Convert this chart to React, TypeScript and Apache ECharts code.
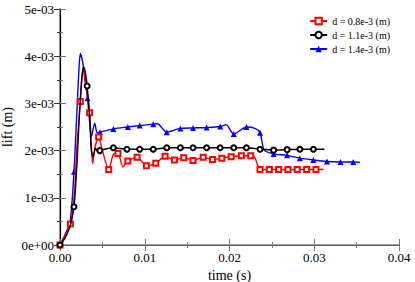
import React, { useEffect, useRef } from "react";
import * as echarts from "echarts";

// time (s)
const redT = [0, 0.0006, 0.00122, 0.0017, 0.002, 0.0024, 0.0026, 0.00279, 0.003, 0.0035, 0.0037, 0.00386, 0.0041, 0.00456, 0.005, 0.00575, 0.0063, 0.00684, 0.00743, 0.008, 0.0091, 0.0102, 0.0113, 0.0124, 0.0135, 0.0146, 0.0157, 0.0169, 0.018, 0.0191, 0.0202, 0.0214, 0.0225, 0.023, 0.0236, 0.0247, 0.0258, 0.0269, 0.028, 0.0291, 0.0302, 0.0311];
// lift in 1e-3 m
const redLift = [0, 0.2, 0.445, 1.1, 2.1, 3.04, 3.55, 3.71, 3.5, 2.8, 2.1, 1.72, 2.05, 2.29, 2.0, 1.6, 1.92, 1.94, 1.65, 1.78, 1.86, 1.68, 1.73, 1.88, 1.8, 1.85, 1.79, 1.86, 1.81, 1.84, 1.87, 1.89, 1.89, 1.85, 1.6, 1.6, 1.6, 1.6, 1.6, 1.6, 1.6, 1.6];
const redMark = [1, 0, 1, 0, 0, 1, 0, 0, 0, 1, 0, 0, 0, 1, 0, 1, 0, 1, 0, 1, 1, 1, 1, 1, 1, 1, 1, 1, 1, 1, 1, 1, 1, 0, 1, 1, 1, 1, 1, 1, 1, 0];

const blackT = [0, 0.0006, 0.0012, 0.00165, 0.002, 0.0023, 0.0026, 0.0028, 0.003, 0.0032, 0.0035, 0.0037, 0.0039, 0.0042, 0.0045, 0.0047, 0.0063, 0.0079, 0.0094, 0.011, 0.0126, 0.0142, 0.0157, 0.0173, 0.0189, 0.0205, 0.022, 0.0236, 0.0252, 0.0268, 0.0283, 0.0299, 0.0312];
const blackLift = [0, 0.15, 0.4, 0.81, 1.7, 2.8, 3.6, 3.78, 3.65, 3.37, 2.7, 2.0, 1.87, 2.05, 1.96, 2.0, 2.06, 2.03, 2.03, 2.03, 2.06, 2.06, 2.06, 2.06, 2.06, 2.06, 2.06, 2.03, 2.01, 2.02, 2.03, 2.03, 2.03];
const blackMark = [1, 0, 0, 1, 0, 0, 0, 0, 0, 1, 0, 0, 0, 0, 0, 1, 1, 1, 1, 1, 1, 1, 1, 1, 1, 1, 1, 1, 1, 1, 1, 1, 0];

const blueT = [0, 0.0006, 0.0012, 0.00165, 0.002, 0.0022, 0.0024, 0.0027, 0.003, 0.00325, 0.0035, 0.0037, 0.0041, 0.0044, 0.00472, 0.0063, 0.008, 0.0094, 0.011, 0.0115, 0.0126, 0.0142, 0.0157, 0.0173, 0.0189, 0.0196, 0.0205, 0.022, 0.023, 0.0236, 0.0241, 0.0252, 0.0268, 0.0283, 0.0299, 0.0315, 0.0331, 0.0346, 0.0354];
const blueLift = [0, 0.22, 0.5, 1.55, 2.85, 3.6, 4.06, 3.85, 3.4, 3.11, 2.6, 2.29, 2.58, 2.37, 2.39, 2.46, 2.5, 2.53, 2.56, 2.57, 2.39, 2.47, 2.48, 2.49, 2.51, 2.55, 2.35, 2.5, 2.47, 2.38, 2.01, 1.93, 1.9, 1.84, 1.8, 1.77, 1.76, 1.76, 1.75];
const blueMark = [1, 0, 0, 1, 0, 0, 0, 0, 0, 1, 0, 0, 0, 0, 1, 1, 1, 1, 1, 0, 1, 1, 1, 1, 1, 0, 1, 1, 0, 1, 0, 1, 1, 1, 1, 1, 1, 1, 0];

const seriesNames = ["d = 0.8e-3 (m)", "d = 1.1e-3 (m)", "d = 1.4e-3 (m)"];

const FONT = "Liberation Serif";

function build(t: number[], v: number[], m: number[]) {
  return t.map((x, i) =>
    m[i] ? { value: [x, v[i]] } : { value: [x, v[i]], symbol: "none" }
  );
}

function axisBase(extra: any) {
  return {
    type: "value",
    splitLine: { show: false },
    ...extra,
  };
}

export default function App() {
  const ref = useRef<HTMLDivElement>(null);
  useEffect(() => {
    if (!ref.current) return;
    const chart = echarts.init(ref.current, undefined, { renderer: "svg" });
    const tickGrey = "#7a7a7a";
    const labelStyle = { fontFamily: FONT, fontSize: 13, fontWeight: "normal", color: "#000" };
    const nameStyle = { fontFamily: FONT, fontSize: 14, fontWeight: "normal", color: "#000" };
    const option: any = {
      animation: false,
      backgroundColor: "#ffffff",
      textStyle: { fontFamily: FONT, fontWeight: "normal" },
      grid: { left: 60, right: 16, top: 9, bottom: 37, outerBoundsMode: "none" },
      legend: {
        right: 20,
        top: 11,
        orient: "vertical",
        itemWidth: 17,
        itemHeight: 8,
        itemGap: 4,
        textStyle: { fontFamily: FONT, fontSize: 10, fontWeight: "normal", color: "#000" },
        data: seriesNames,
      },
      xAxis: [
        axisBase({
          position: "bottom",
          min: 0,
          max: 0.04,
          interval: 0.01,
          name: "time (s)",
          nameLocation: "middle",
          nameGap: 23,
          nameMoveOverlap: false,
          nameTextStyle: nameStyle,
          axisLine: { show: true, lineStyle: { color: "#000", width: 1.2 } },
          axisTick: { show: true, inside: true, length: 6, lineStyle: { color: tickGrey } },
          minorTick: { show: true, splitNumber: 2, length: 3, lineStyle: { color: tickGrey } },
          axisLabel: { ...labelStyle, margin: 6, formatter: (v: number) => v.toFixed(2) },
        }),
        axisBase({
          position: "top",
          min: 0,
          max: 0.04,
          interval: 0.01,
          axisLine: { show: true, lineStyle: { color: "#808080", width: 1.5 } },
          axisTick: { show: true, inside: true, length: 6, lineStyle: { color: tickGrey } },
          minorTick: { show: true, splitNumber: 2, length: 3, lineStyle: { color: tickGrey } },
          axisLabel: { show: false },
        }),
      ],
      yAxis: [
        axisBase({
          position: "left",
          min: 0,
          max: 5,
          interval: 1,
          name: "lift (m)",
          nameLocation: "middle",
          nameGap: 46,
          nameMoveOverlap: false,
          nameTextStyle: nameStyle,
          axisLine: { show: true, lineStyle: { color: "#808080", width: 1.5 } },
          axisTick: { show: true, inside: true, length: 6, lineStyle: { color: tickGrey } },
          minorTick: { show: true, splitNumber: 2, length: 3, lineStyle: { color: tickGrey } },
          axisLabel: {
            ...labelStyle,
            margin: 6,
            formatter: (v: number) => (v === 0 ? "0e+00" : `${Math.round(v)}e-03`),
          },
        }),
        axisBase({
          position: "right",
          min: 0,
          max: 5,
          interval: 1,
          axisLine: { show: true, lineStyle: { color: "#000", width: 1.2 } },
          axisTick: { show: true, inside: true, length: 6, lineStyle: { color: "#333" } },
          minorTick: { show: true, splitNumber: 2, length: 3, lineStyle: { color: "#333" } },
          axisLabel: { show: false },
        }),
      ],
      series: [
        {
          name: seriesNames[0],
          type: "line",
          data: build(redT, redLift, redMark),
          smooth: 0.25,
          showSymbol: true,
          showAllSymbol: true,
          symbol: "emptyRect",
          symbolSize: 5,
          color: "#ff0000",
          lineStyle: { color: "#ff0000", width: 1.4 },
          itemStyle: { color: "#ff0000", borderColor: "#ff0000", borderWidth: 1 },
          z: 3,
        },
        {
          name: seriesNames[1],
          type: "line",
          data: build(blackT, blackLift, blackMark),
          smooth: 0.25,
          showSymbol: true,
          showAllSymbol: true,
          symbol: "emptyCircle",
          symbolSize: 5,
          color: "#000000",
          lineStyle: { color: "#000000", width: 1.4 },
          itemStyle: { color: "#000000", borderColor: "#000000", borderWidth: 1 },
          z: 4,
        },
        {
          name: seriesNames[2],
          type: "line",
          data: build(blueT, blueLift, blueMark),
          smooth: 0.25,
          showSymbol: true,
          showAllSymbol: true,
          symbol: "triangle",
          symbolSize: 6,
          color: "#0000ff",
          lineStyle: { color: "#0000ff", width: 1.4 },
          itemStyle: { color: "#0000ff" },
          z: 2,
        },
      ],
    };
    chart.setOption(option);
    return () => chart.dispose();
  }, []);
  return (
    <div
      ref={ref}
      style={{ position: "fixed", left: 0, top: 0, width: 415, height: 282, background: "#fff" }}
    />
  );
}
